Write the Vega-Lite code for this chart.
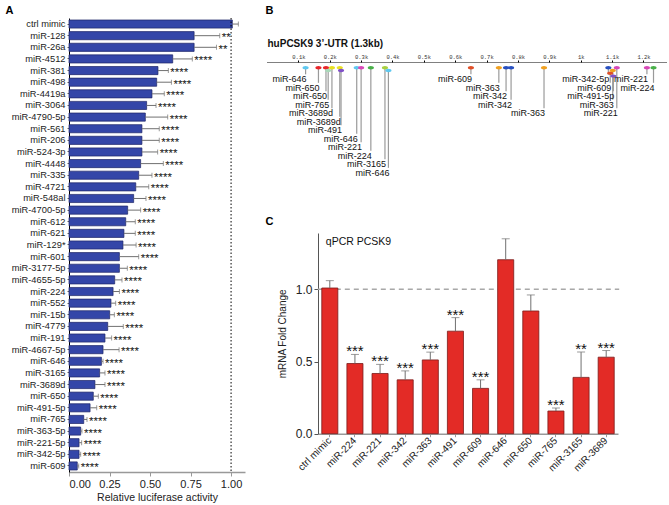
{
  "$schema": "https://vega.github.io/schema/vega-lite/v6.json",
  "width": 598,
  "height": 454,
  "autosize": "none",
  "padding": {"left": 69, "top": 18, "right": 2, "bottom": 33},
  "config": {"font": "Liberation Sans", "view": {"stroke": null}, "axis": {"grid": false}},
  "datasets": {
    "lucif": [
      {"name": "ctrl mimic", "value": 1.008, "err": 1.045, "sig": ""},
      {"name": "miR-128", "value": 0.772, "err": 0.93, "sig": "**"},
      {"name": "miR-26a", "value": 0.772, "err": 0.91, "sig": "**"},
      {"name": "miR-4512", "value": 0.64, "err": 0.761, "sig": "****"},
      {"name": "miR-381", "value": 0.549, "err": 0.613, "sig": "****"},
      {"name": "miR-498", "value": 0.541, "err": 0.632, "sig": "****"},
      {"name": "miR-4419a", "value": 0.512, "err": 0.588, "sig": "****"},
      {"name": "miR-3064", "value": 0.479, "err": 0.537, "sig": "****"},
      {"name": "miR-4790-5p", "value": 0.471, "err": 0.609, "sig": "****"},
      {"name": "miR-561", "value": 0.45, "err": 0.557, "sig": "****"},
      {"name": "miR-206", "value": 0.45, "err": 0.557, "sig": "****"},
      {"name": "miR-524-3p", "value": 0.45, "err": 0.547, "sig": "****"},
      {"name": "miR-4448", "value": 0.442, "err": 0.582, "sig": "****"},
      {"name": "miR-335", "value": 0.43, "err": 0.512, "sig": "****"},
      {"name": "miR-4721", "value": 0.412, "err": 0.492, "sig": "****"},
      {"name": "miR-548al", "value": 0.399, "err": 0.475, "sig": "****"},
      {"name": "miR-4700-5p", "value": 0.362, "err": 0.442, "sig": "****"},
      {"name": "miR-612", "value": 0.35, "err": 0.409, "sig": "****"},
      {"name": "miR-621", "value": 0.339, "err": 0.409, "sig": "****"},
      {"name": "miR-129*", "value": 0.333, "err": 0.414, "sig": "****"},
      {"name": "miR-601", "value": 0.311, "err": 0.43, "sig": "****"},
      {"name": "miR-3177-5p", "value": 0.311, "err": 0.36, "sig": "****"},
      {"name": "miR-4655-5p", "value": 0.282, "err": 0.327, "sig": "****"},
      {"name": "miR-224", "value": 0.272, "err": 0.311, "sig": "****"},
      {"name": "miR-552", "value": 0.259, "err": 0.288, "sig": "****"},
      {"name": "miR-15b", "value": 0.251, "err": 0.28, "sig": "****"},
      {"name": "miR-4779", "value": 0.239, "err": 0.335, "sig": "****"},
      {"name": "miR-191", "value": 0.222, "err": 0.263, "sig": "****"},
      {"name": "miR-4667-5p", "value": 0.21, "err": 0.309, "sig": "****"},
      {"name": "miR-646", "value": 0.2, "err": 0.21, "sig": "****"},
      {"name": "miR-3165", "value": 0.189, "err": 0.222, "sig": "****"},
      {"name": "miR-3689d", "value": 0.16, "err": 0.222, "sig": "****"},
      {"name": "miR-650", "value": 0.15, "err": 0.181, "sig": "****"},
      {"name": "miR-491-5p", "value": 0.13, "err": 0.171, "sig": "****"},
      {"name": "miR-765", "value": 0.091, "err": 0.111, "sig": "****"},
      {"name": "miR-363-5p", "value": 0.072, "err": 0.08, "sig": "****"},
      {"name": "miR-221-5p", "value": 0.062, "err": 0.078, "sig": "****"},
      {"name": "miR-342-5p", "value": 0.062, "err": 0.072, "sig": "****"},
      {"name": "miR-609", "value": 0.051, "err": 0.06, "sig": "****"}
    ],
    "sites": [
      {"name": "miR-646", "pos": 0.123, "family": "646", "lane": 0, "tier": 0},
      {"name": "miR-650", "pos": 0.164, "family": "650", "lane": 0, "tier": 1},
      {"name": "miR-650", "pos": 0.188, "family": "650", "lane": 0, "tier": 2},
      {"name": "miR-765", "pos": 0.195, "family": "765", "lane": 1, "tier": 3},
      {"name": "miR-3689d", "pos": 0.207, "family": "3689d", "lane": 0, "tier": 4},
      {"name": "miR-3689d", "pos": 0.232, "family": "3689d", "lane": 0, "tier": 5},
      {"name": "miR-491", "pos": 0.236, "family": "491", "lane": 1, "tier": 6},
      {"name": "miR-646", "pos": 0.286, "family": "646", "lane": 0, "tier": 7},
      {"name": "miR-221", "pos": 0.3, "family": "221", "lane": 0, "tier": 8},
      {"name": "miR-224", "pos": 0.331, "family": "224", "lane": 0, "tier": 9},
      {"name": "miR-3165", "pos": 0.376, "family": "3165", "lane": 0, "tier": 10},
      {"name": "miR-646", "pos": 0.387, "family": "646", "lane": 1, "tier": 11},
      {"name": "miR-609", "pos": 0.65, "family": "609", "lane": 0, "tier": 0},
      {"name": "miR-363", "pos": 0.739, "family": "363", "lane": 0, "tier": 1},
      {"name": "miR-342", "pos": 0.762, "family": "342", "lane": 0, "tier": 2},
      {"name": "miR-342", "pos": 0.778, "family": "342", "lane": 0, "tier": 3},
      {"name": "miR-363", "pos": 0.883, "family": "363", "lane": 0, "tier": 4},
      {"name": "miR-342-5p", "pos": 1.088, "family": "342", "lane": 0, "tier": 0},
      {"name": "miR-609", "pos": 1.094, "family": "609", "lane": 2, "tier": 1},
      {"name": "miR-491-5p", "pos": 1.104, "family": "491", "lane": 3, "tier": 2},
      {"name": "miR-363", "pos": 1.102, "family": "363", "lane": 1, "tier": 3},
      {"name": "miR-221", "pos": 1.115, "family": "221", "lane": 0, "tier": 4},
      {"name": "miR-221", "pos": 1.211, "family": "221", "lane": 0, "tier": 0},
      {"name": "miR-224", "pos": 1.232, "family": "224", "lane": 0, "tier": 1}
    ],
    "qpcr": [
      {"name": "ctrl mimic", "value": 1.009, "err": 1.06, "sig": ""},
      {"name": "miR-224", "value": 0.486, "err": 0.549, "sig": "***"},
      {"name": "miR-221", "value": 0.417, "err": 0.48, "sig": "***"},
      {"name": "miR-342", "value": 0.373, "err": 0.435, "sig": "***"},
      {"name": "miR-363", "value": 0.511, "err": 0.565, "sig": "***"},
      {"name": "miR-491", "value": 0.71, "err": 0.804, "sig": "***"},
      {"name": "miR-609", "value": 0.314, "err": 0.373, "sig": "***"},
      {"name": "miR-646", "value": 1.205, "err": 1.35, "sig": ""},
      {"name": "miR-650", "value": 0.85, "err": 0.961, "sig": ""},
      {"name": "miR-765", "value": 0.157, "err": 0.178, "sig": "***"},
      {"name": "miR-3165", "value": 0.39, "err": 0.565, "sig": "**"},
      {"name": "miR-3689", "value": 0.53, "err": 0.576, "sig": "***"}
    ]
  },
  "layer": [
    {
      "data": {"name": "lucif"},
      "layer": [
        {
          "mark": {"type": "bar", "fill": "#3446a8", "stroke": "#1c2466", "strokeWidth": 0.7},
          "encoding": {
            "y": {"field": "name", "type": "nominal", "sort": null,
              "scale": {"range": [0, 454], "paddingInner": 0.3, "paddingOuter": 0.17},
              "axis": {"orient": "left", "title": "A", "titleAngle": 0, "titleX": -64, "titleY": -8, "titleAlign": "left", "titleBaseline": "middle", "titleFontSize": 11, "titleFontWeight": "bold", "labelFontSize": 9.3, "labelColor": "#222", "domainColor": "#000", "tickSize": 2, "tickColor": "#666", "labelPadding": 2}},
            "x": {"field": "value", "type": "quantitative",
              "scale": {"domain": [0, 1.086], "range": [0, 176], "nice": false},
              "axis": {"orient": "bottom", "title": "Relative luciferase activity", "values": [0, 0.25, 0.5, 0.75, 1], "format": ".2f", "labelFontSize": 11, "titleFontSize": 10.5, "titleFontWeight": "normal", "domainColor": "#999", "domainWidth": 1.5, "tickColor": "#999", "tickSize": 4, "labelPadding": 2, "titlePadding": 3, "labelColor": "#222", "titleColor": "#222"}}
          }
        },
        {
          "mark": {"type": "rule", "color": "#707070"},
          "encoding": {"y": {"field": "name", "type": "nominal", "sort": null}, "x": {"field": "value", "type": "quantitative"}, "x2": {"field": "err"}}
        },
        {
          "mark": {"type": "tick", "color": "#707070", "size": 5, "thickness": 1},
          "encoding": {"y": {"field": "name", "type": "nominal", "sort": null}, "x": {"field": "err", "type": "quantitative"}}
        },
        {
          "mark": {"type": "text", "align": "left", "baseline": "alphabetic", "dx": 2, "dy": 5.5, "fontSize": 11.5, "color": "#111"},
          "encoding": {"y": {"field": "name", "type": "nominal", "sort": null}, "x": {"field": "err", "type": "quantitative"}, "text": {"field": "sig"}}
        },
        {
          "data": {"values": [{"ref": 1}]},
          "mark": {"type": "rule", "color": "#000", "strokeDash": [1.5, 2], "strokeWidth": 1},
          "encoding": {"x": {"field": "ref", "type": "quantitative"}}
        }
      ]
    },
    {
      "data": {"name": "sites"},
      "transform": [
        {"calculate": "-1.33 + 0.33 * datum.lane", "as": "ly"},
        {"calculate": "datum.tier - 0.55", "as": "ttop"}
      ],
      "layer": [
        {
          "mark": {"type": "rule", "color": "#9a9a9a", "strokeWidth": 1.2},
          "encoding": {
            "x": {"field": "pos", "type": "quantitative",
              "scale": {"domain": [0, 1.275], "range": [198, 598], "nice": false, "zero": false},
              "axis": {"orient": "top", "offset": -44, "values": [0.1, 0.2, 0.3, 0.4, 0.5, 0.6, 0.7, 0.8, 0.9, 1, 1.1, 1.2],
                "labelExpr": "datum.value == 1 ? '1k' : format(datum.value, '.1f') + 'k'",
                "labelFont": "Liberation Mono", "labelFontSize": 5.5, "labelColor": "#333", "labelPadding": 1,
                "tickSize": 2, "tickColor": "#000", "domainColor": "#000", "domainDash": [1, 1], "domainWidth": 1,
                "title": "huPCSK9 3’-UTR (1.3kb)", "titleX": 198, "titleY": -19, "titleAngle": 0, "titleAlign": "left", "titleBaseline": "middle", "titleFontSize": 10, "titleFontWeight": "bold", "titleColor": "#111"}},
            "y": {"field": "ly", "type": "quantitative",
              "scale": {"domain": [-2, 12], "range": [44, 163], "nice": false, "zero": false},
              "axis": {"orient": "left", "domain": false, "ticks": false, "labels": false, "title": "B", "titleAngle": 0, "titleX": 196, "titleY": -8, "titleAlign": "left", "titleBaseline": "middle", "titleFontSize": 11, "titleFontWeight": "bold"}},
            "y2": {"field": "ttop"}
          }
        },
        {
          "mark": {"type": "point", "shape": "M-1,0A1,0.55,0,1,0,1,0A1,0.55,0,1,0,-1,0Z", "filled": true, "size": 38, "opacity": 1},
          "encoding": {
            "x": {"field": "pos", "type": "quantitative"},
            "y": {"field": "ly", "type": "quantitative"},
            "color": {"field": "family", "type": "nominal", "legend": null,
              "scale": {"domain": ["646", "650", "765", "3689d", "491", "221", "224", "3165", "609", "363", "342"],
                "range": ["#5ec8f0", "#e8262a", "#a8d8b8", "#e8e020", "#8050c8", "#d848b8", "#48b048", "#a8d040", "#e05028", "#f0a020", "#2850c0"]}}
          }
        },
        {
          "mark": {"type": "text", "align": "right", "baseline": "middle", "dx": 1, "fontSize": 9, "color": "#111"},
          "encoding": {
            "x": {"field": "pos", "type": "quantitative"},
            "y": {"field": "tier", "type": "quantitative"},
            "text": {"field": "name"}
          }
        }
      ]
    },
    {
      "data": {"name": "qpcr"},
      "layer": [
        {
          "data": {"values": [{"a": "ctrl mimic", "b": "miR-3689", "ref": 1}]},
          "mark": {"type": "rule", "color": "#a8a8a8", "strokeDash": [5, 4], "strokeWidth": 1.5, "xOffset": -12, "x2Offset": 13},
          "encoding": {"x": {"field": "a", "type": "nominal"}, "x2": {"field": "b"}, "y": {"field": "ref", "type": "quantitative"}}
        },
        {
          "mark": {"type": "bar", "fill": "#e32b26", "stroke": "#7a1c1a", "strokeWidth": 0.8},
          "encoding": {
            "x": {"field": "name", "type": "nominal",
              "scale": {"domain": ["ctrl mimic", "miR-224", "miR-221", "miR-342", "miR-363", "miR-491", "miR-609", "miR-646", "miR-650", "miR-765", "miR-3165", "miR-3689"], "range": [249, 549], "paddingInner": 0.36, "paddingOuter": 0.15},
              "axis": {"orient": "bottom", "offset": -38.3, "labelAngle": -45, "labelFontSize": 10, "labelColor": "#222", "labelPadding": 2, "domainColor": "#999", "domainWidth": 1.5, "tickColor": "#999", "tickSize": 3,
                "title": "C", "titleX": 196, "titleY": -212, "titleAngle": 0, "titleAlign": "left", "titleBaseline": "middle", "titleFontSize": 11, "titleFontWeight": "bold"}},
            "y": {"field": "value", "type": "quantitative",
              "scale": {"domain": [0, 1.39], "range": [415.7, 215], "nice": false},
              "axis": {"orient": "left", "offset": -249, "values": [0, 0.5, 1], "format": ".1f", "labelFontSize": 12, "labelColor": "#222", "labelPadding": 2, "domainColor": "#555", "tickColor": "#555", "tickSize": 4,
                "title": "mRNA Fold Change", "titleFontSize": 10, "titleFontWeight": "normal", "titleColor": "#222", "titlePadding": 8}}
          }
        },
        {
          "mark": {"type": "rule", "color": "#707070"},
          "encoding": {"x": {"field": "name", "type": "nominal"}, "y": {"field": "value", "type": "quantitative"}, "y2": {"field": "err"}}
        },
        {
          "mark": {"type": "tick", "color": "#707070", "size": 8, "thickness": 1},
          "encoding": {"x": {"field": "name", "type": "nominal"}, "y": {"field": "err", "type": "quantitative"}}
        },
        {
          "mark": {"type": "text", "align": "center", "baseline": "alphabetic", "dy": 2, "fontSize": 15, "color": "#111"},
          "encoding": {"x": {"field": "name", "type": "nominal"}, "y": {"field": "err", "type": "quantitative"}, "text": {"field": "sig"}}
        },
        {
          "data": {"values": [{"name": "ctrl mimic", "y": 1.33, "label": "qPCR PCSK9"}]},
          "mark": {"type": "text", "align": "left", "baseline": "middle", "dx": -4, "fontSize": 10.5, "color": "#111"},
          "encoding": {"x": {"field": "name", "type": "nominal"}, "y": {"field": "y", "type": "quantitative"}, "text": {"field": "label"}}
        }
      ]
    }
  ],
  "resolve": {
    "scale": {"x": "independent", "y": "independent", "color": "independent"},
    "axis": {"x": "independent", "y": "independent"}
  }
}
